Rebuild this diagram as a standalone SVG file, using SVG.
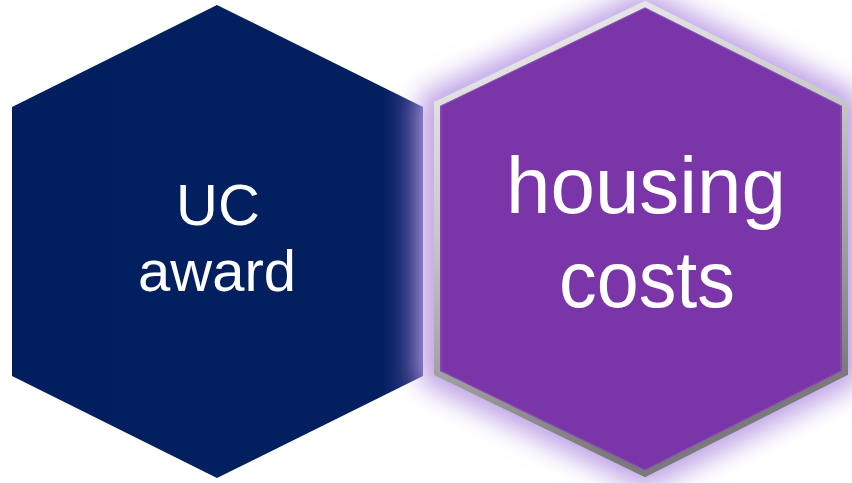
<svg xmlns="http://www.w3.org/2000/svg" width="852" height="483" viewBox="0 0 852 483">
<style>
.lbl{font-family:"Liberation Sans",Arial,sans-serif;fill:#ffffff;text-anchor:middle}
</style>
<defs>
<linearGradient id="navy" x1="12" y1="0" x2="423" y2="0" gradientUnits="userSpaceOnUse">
<stop offset="0" stop-color="#011f5e"/>
<stop offset="0.9" stop-color="#031f60"/>
<stop offset="1" stop-color="#363a88"/>
</linearGradient>
<linearGradient id="rim" x1="0" y1="0" x2="0.3" y2="1">
<stop offset="0" stop-color="#f2f2f2"/>
<stop offset="0.45" stop-color="#c8c8c8"/>
<stop offset="1" stop-color="#7a7a7a"/>
</linearGradient>
<filter id="glow" x="-20%" y="-20%" width="140%" height="140%">
<feGaussianBlur stdDeviation="13"/>
</filter>
</defs>
<rect width="852" height="483" fill="#ffffff"/>
<g id="uc-award">
<polygon points="217,5 423,107 423,376 217,478 12,376 12,107" fill="url(#navy)"/>
<text class="lbl" x="218" y="225" font-size="58">UC</text>
<text class="lbl" x="217" y="291" font-size="58">award</text>
</g>
<g id="housing-costs">
<polygon points="645,-10 860,95 860,382 645,490 420,382 420,95" fill="#bfa3e6" filter="url(#glow)"/>
<polygon points="645,4 845,104 845,373 645,474 437,373 437,104" fill="#7a36a8" stroke="url(#rim)" stroke-width="6" stroke-linejoin="miter"/>
<polygon points="645,8 841,106 841,371 645,470 441,371 441,106" fill="none" stroke="#9a6cc0" stroke-width="1" opacity="0.6"/>
<text class="lbl" x="646" y="213" font-size="80" textLength="280" lengthAdjust="spacingAndGlyphs">housing</text>
<text class="lbl" x="647" y="307" font-size="80" textLength="176" lengthAdjust="spacingAndGlyphs">costs</text>
</g>
<g id="connectors"></g>
</svg>
